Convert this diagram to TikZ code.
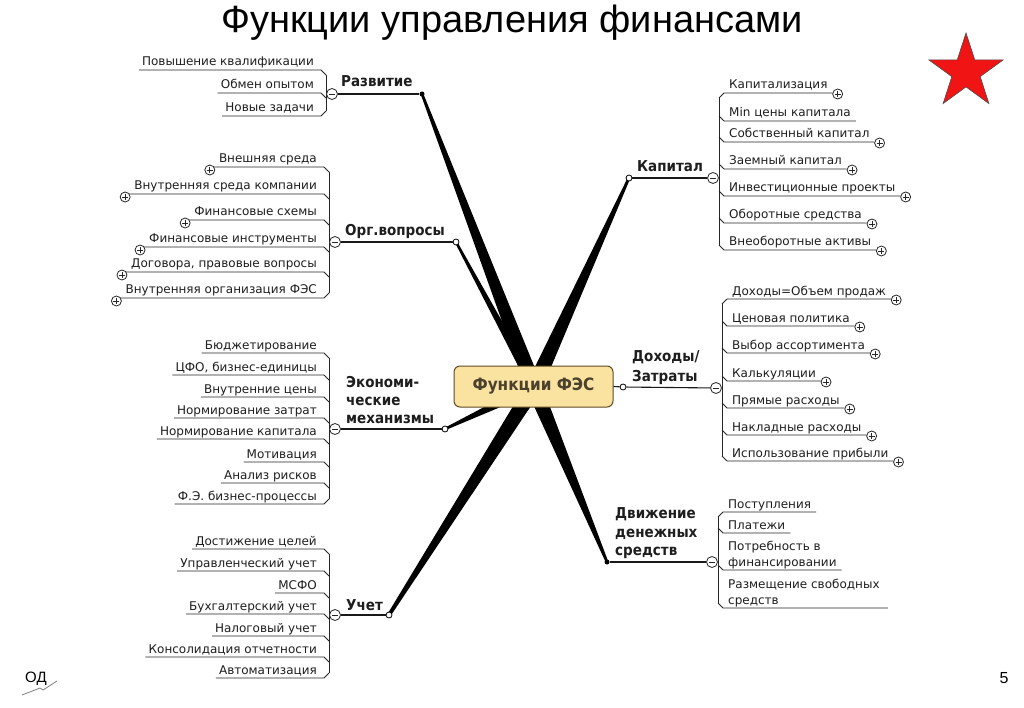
\documentclass[tikz,border=0pt]{standalone}
\usepackage{fontspec}
\setmainfont{DejaVu Sans}
\newfontfamily\labfont{DejaVu Sans}[FakeStretch=0.9]
\newfontfamily\arialfont{Liberation Sans}
\usetikzlibrary{calc}
\definecolor{boxfill}{RGB}{250,226,160}
\definecolor{boxline}{RGB}{95,75,35}
\definecolor{boxtext}{RGB}{75,65,45}
\definecolor{txt}{RGB}{30,30,30}
\definecolor{starred}{RGB}{240,20,20}

% left child: name, bracket x, underline y, text, plus(0/1), bevel (+5/-5)
\newcommand\leftkid[6]{%
  \node[ct, anchor=base east] (#1) at (#2-12,#3-4) {#4};
  \coordinate (#1r) at (#2-5,#3);
  \coordinate (#1b) at (#2,#3#6);
  \ifnum#5=1
    \path (#1.base west) ++(-9,7) node[pc] (#1p) {};
    \path (#1p.center) ++(4,-3) coordinate (#1e);
  \else
    \path (#1.base west) ++(-3,4) coordinate (#1e);
  \fi
  \draw[ul] (#1e) -- (#1r) -- (#1b);
}
% right child
\newcommand\rightkid[6]{%
  \node[ct, anchor=base west] (#1) at (#2+10,#3-4) {#4};
  \coordinate (#1l) at (#2+5,#3);
  \coordinate (#1b) at (#2,#3#6);
  \ifnum#5=1
    \path (#1.base east) ++(10,5) node[pc] (#1p) {};
    \path (#1p.west) ++(0,-1) coordinate (#1e);
  \else
    \path (#1.base east) ++(5,4) coordinate (#1e);
  \fi
  \draw[ul] (#1b) -- (#1l) -- (#1e);
}
% tapered branch
\newcommand\brwedge[4]{%
  \fill[black] ($(#1)!#3pt!90:(#2)$) -- ($(#2)!#4pt!-90:(#1)$) -- ($(#2)!#4pt!90:(#1)$) -- ($(#1)!#3pt!-90:(#2)$) -- cycle;}

\begin{document}
\begin{tikzpicture}[x=1pt,y=-1pt,
  ct/.style={font=\fontsize{12}{14}\selectfont, inner sep=0pt, text=txt},
  bl/.style={font=\labfont\bfseries\fontsize{15}{18}\selectfont, inner sep=0pt, text=txt},
  ul/.style={draw=black!85, line width=0.9pt},
  ml/.style={draw=black!90, line width=1.1pt},
  pm/.style={circle, draw=black!85, fill=white, line width=0.8pt, inner sep=0pt},
  mc/.style={pm, minimum size=11pt, path picture={\draw[line width=0.9pt] ($(path picture bounding box.center)+(-3,0)$) -- ++(6,0);}},
  pc/.style={pm, minimum size=10pt, path picture={\draw[line width=0.9pt] ($(path picture bounding box.center)+(-3,0)$) -- ++(6,0) ($(path picture bounding box.center)+(0,-3)$) -- ++(0,6);}},
  oc/.style={circle, draw=black, fill=white, line width=0.8pt, minimum size=6pt, inner sep=0pt},
  dc/.style={circle, fill=black, minimum size=5pt, inner sep=0pt},
  box/.style={draw=boxline, fill=boxfill, rounded corners=6pt, line width=1pt, minimum width=159pt, minimum height=41pt, inner sep=0pt, font=\labfont\bfseries\fontsize{17}{20}\selectfont, text=boxtext}
]
\useasboundingbox (0,0) rectangle (1024,708);
\fill[white] (0,0) rectangle (1024,708);

% title and decorations
\node[font=\arialfont\fontsize{38}{44}\selectfont, anchor=base, inner sep=0pt] (title) at (512,33) {Функции управления финансами};
\draw[fill=starred, draw=black!70, line width=0.6pt] (966,33) -- (974.76,59.95) -- (1003.1,59.95) -- (980.17,76.6) -- (988.9,103.55) -- (966,86.9) -- (943.1,103.55) -- (951.83,76.6) -- (928.9,59.95) -- (957.24,59.95) -- cycle;
\node[font=\arialfont\fontsize{15}{18}\selectfont, anchor=base west, inner sep=0pt] (od) at (25,682) {ОД};
\draw[gray, line width=0.8pt] (22,695) -- (40,688) -- (43,690) -- (57,681);
\node[font=\arialfont\fontsize{16}{18}\selectfont, anchor=base, inner sep=0pt] (pg) at (1004,683) {5};

% endpoints and hub
\coordinate (hub) at (534,387);
\coordinate (razvC) at (422,94);
\coordinate (orgC) at (456,242);
\coordinate (econC) at (445,429);
\coordinate (uchC) at (389,615);
\coordinate (kapC) at (629,178);
\coordinate (dvC) at (607,562);

\brwedge{hub}{razvC}{8}{1.3}
\brwedge{hub}{orgC}{4.5}{1.2}
\brwedge{hub}{econC}{5.5}{1.2}
\brwedge{hub}{uchC}{8}{1.8}
\brwedge{hub}{kapC}{8}{1.3}
\brwedge{hub}{dvC}{8}{1.3}

\node[box] (fes) at (533.5,386.5) {Функции ФЭС};

% ---------- Развитие ----------
\node[bl, anchor=base west] (razv) at (341,87) {Развитие};
\leftkid{r1}{326}{70}{Повышение квалификации}{0}{+5}
\leftkid{r2}{326}{93}{Обмен опытом}{0}{+5}
\leftkid{r3}{326}{116}{Новые задачи}{0}{-5}
\draw[ul] (r1b) -- (r3b);
\node[mc] (razvm) at (332,94) {};
\node[dc] (razve) at (razvC) {};
\draw[ml] (razvm) -- (razve);

% ---------- Орг.вопросы ----------
\node[bl, anchor=base west] (org) at (345,236) {Орг.вопросы};
\leftkid{o1}{329}{167}{Внешняя среда}{1}{+5}
\leftkid{o2}{329}{194}{Внутренняя среда компании}{1}{+5}
\leftkid{o3}{329}{220}{Финансовые схемы}{1}{+5}
\leftkid{o4}{329}{247}{Финансовые инструменты}{1}{+5}
\leftkid{o5}{329}{272}{Договора, правовые вопросы}{1}{+5}
\leftkid{o6}{329}{298}{Внутренняя организация ФЭС}{1}{-5}
\draw[ul] (o1b) -- (o6b);
\node[mc] (orgm) at (335,242) {};
\node[oc] (orge) at (orgC) {};
\draw[ml] (orgm) -- (orge);

% ---------- Экономические механизмы ----------
\node[bl, anchor=base west] (ec1) at (346,387) {Экономи-};
\node[bl, anchor=base west] (ec2) at (346,405) {ческие};
\node[bl, anchor=base west] (ec3) at (346,423) {механизмы};
\leftkid{e1}{329}{353}{Бюджетирование}{0}{+5}
\leftkid{e2}{329}{375}{ЦФО, бизнес-единицы}{0}{+5}
\leftkid{e3}{329}{397}{Внутренние цены}{0}{+5}
\leftkid{e4}{329}{418}{Нормирование затрат}{0}{+5}
\leftkid{e5}{329}{439}{Нормирование капитала}{0}{+5}
\leftkid{e6}{329}{462}{Мотивация}{0}{+5}
\leftkid{e7}{329}{483}{Анализ рисков}{0}{+5}
\leftkid{e8}{329}{504}{Ф.Э. бизнес-процессы}{0}{-5}
\draw[ul] (e1b) -- (e8b);
\node[mc] (econm) at (335,429) {};
\node[oc] (econe) at (econC) {};
\draw[ml] (econm) -- (econe);

% ---------- Учет ----------
\node[bl, anchor=base west] (uch) at (346,610) {Учет};
\leftkid{u1}{329}{549}{Достижение целей}{0}{+5}
\leftkid{u2}{329}{571}{Управленческий учет}{0}{+5}
\leftkid{u3}{329}{593}{МСФО}{0}{+5}
\leftkid{u4}{329}{614}{Бухгалтерский учет}{0}{+5}
\leftkid{u5}{329}{636}{Налоговый учет}{0}{+5}
\leftkid{u6}{329}{657}{Консолидация отчетности}{0}{+5}
\leftkid{u7}{329}{678}{Автоматизация}{0}{-5}
\draw[ul] (u1b) -- (u7b);
\node[mc] (uchm) at (335,615) {};
\node[oc] (uche) at (uchC) {};
\draw[ml] (uchm) -- (uche);

% ---------- Капитал ----------
\node[bl, anchor=base west] (kap) at (637,172) {Капитал};
\rightkid{k1}{719}{93}{Капитализация}{1}{+5}
\rightkid{k2}{719}{121}{Min цены капитала}{0}{-5}
\rightkid{k3}{719}{142}{Собственный капитал}{1}{-5}
\rightkid{k4}{719}{169}{Заемный капитал}{1}{-5}
\rightkid{k5}{719}{196}{Инвестиционные проекты}{1}{-5}
\rightkid{k6}{719}{223}{Оборотные средства}{1}{-5}
\rightkid{k7}{719}{250}{Внеоборотные активы}{1}{-5}
\draw[ul] (k1b) -- (k7b);
\node[mc] (kapm) at (713,178) {};
\node[oc] (kape) at (kapC) {};
\draw[ml] (kape) -- (kapm);

% ---------- Доходы/Затраты ----------
\node[bl, anchor=base west] (dz1) at (632,361) {Доходы/};
\node[bl, anchor=base west] (dz2) at (632,381) {Затраты};
\rightkid{d1}{722}{299}{Доходы=Объем продаж}{1}{+5}
\rightkid{d2}{722}{326}{Ценовая политика}{1}{-5}
\rightkid{d3}{722}{353}{Выбор ассортимента}{1}{-5}
\rightkid{d4}{722}{381}{Калькуляции}{1}{-5}
\rightkid{d5}{722}{408}{Прямые расходы}{1}{-5}
\rightkid{d6}{722}{435}{Накладные расходы}{1}{-5}
\rightkid{d7}{722}{461}{Использование прибыли}{1}{-5}
\draw[ul] (d1b) -- (d7b);
\node[mc] (dzm) at (716,388) {};
\node[oc] (dze) at (623,387) {};
\draw[ml] (fes.east) -- (dze);
\draw[ml] (dze) -- (dzm);

% ---------- Движение денежных средств ----------
\node[bl, anchor=base west] (dv1) at (615,518) {Движение};
\node[bl, anchor=base west] (dv2) at (615,537) {денежных};
\node[bl, anchor=base west] (dv3) at (615,555) {средств};
\rightkid{m1}{718}{512}{Поступления}{0}{+5}
\rightkid{m2}{718}{533}{Платежи}{0}{-5}
\node[ct, anchor=base west] (m3) at (728,550) {Потребность в};
\node[ct, anchor=base west] (m3x) at (728,566) {финансировании};
\coordinate (m3l) at (723,570);
\coordinate (m3b) at (718,565);
\path (m3x.base east) ++(5,4) coordinate (m3e);
\draw[ul] (m3b) -- (m3l) -- (m3e);
\node[ct, anchor=base west] (m4) at (728,588) {Размещение свободных};
\node[ct, anchor=base west] (m4x) at (728,604) {средств};
\coordinate (m4l) at (723,608);
\coordinate (m4b) at (718,603);
\path (m4.base east) ++(8,20) coordinate (m4e);
\draw[ul] (m4b) -- (m4l) -- (m4e);
\draw[ul] (m1b) -- (m4b);
\node[mc] (dvm) at (712,562) {};
\node[dc] (dve) at (dvC) {};
\draw[ml] (dve) -- (dvm);
\end{tikzpicture}
\end{document}
